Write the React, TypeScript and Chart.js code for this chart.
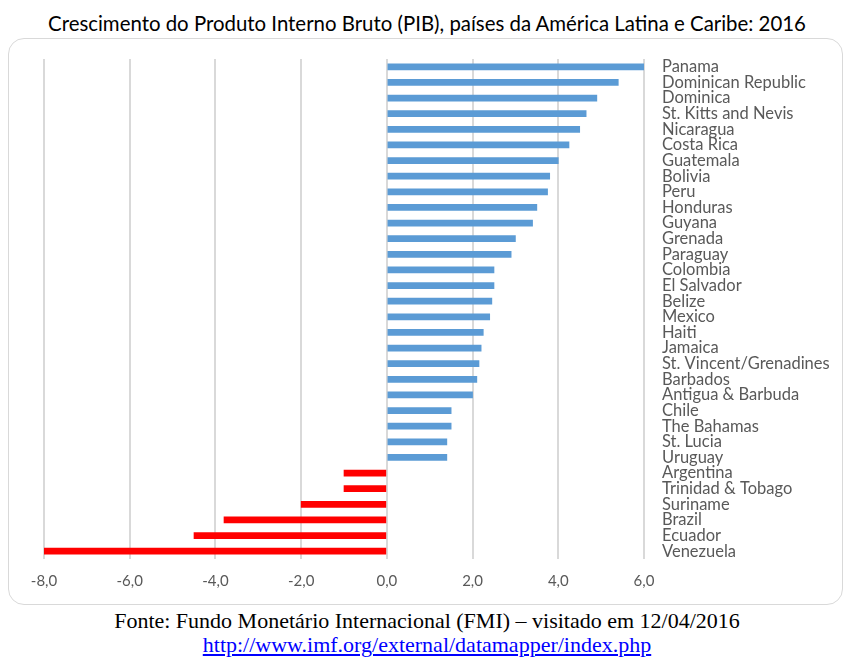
import React, { useEffect, useRef } from "react";
import { Chart, registerables } from "chart.js";

Chart.register(...registerables);

const countries: string[] = [
  "Panama", "Dominican Republic", "Dominica", "St. Kitts and Nevis", "Nicaragua",
  "Costa Rica", "Guatemala", "Bolivia", "Peru", "Honduras", "Guyana", "Grenada",
  "Paraguay", "Colombia", "El Salvador", "Belize", "Mexico", "Haiti", "Jamaica",
  "St. Vincent/Grenadines", "Barbados", "Antigua & Barbuda", "Chile", "The Bahamas",
  "St. Lucia", "Uruguay", "Argentina", "Trinidad & Tobago", "Suriname", "Brazil",
  "Ecuador", "Venezuela",
];

const growth: number[] = [
  6.0, 5.4, 4.9, 4.65, 4.5, 4.25, 4.0, 3.8, 3.75, 3.5, 3.4, 3.0,
  2.9, 2.5, 2.5, 2.45, 2.4, 2.25, 2.2, 2.15, 2.1, 2.0, 1.5, 1.5,
  1.4, 1.4, -1.0, -1.0, -2.0, -3.8, -4.5, -8.0,
];

const xTicks: number[] = [-8, -6, -4, -2, 0, 2, 4, 6];

const POS_COLOR = "#5b9bd5";
const NEG_COLOR = "#ff0000";
const SANS = "Lato, 'Open Sans', sans-serif";

function fmt(v: number): string {
  return v.toFixed(1).replace(".", ",");
}

export default function App() {
  const ref = useRef<HTMLCanvasElement | null>(null);

  useEffect(() => {
    if (!ref.current) return;
    const chart = new Chart(ref.current, {
      type: "bar",
      data: {
        labels: countries,
        datasets: [
          {
            data: growth,
            backgroundColor: growth.map((v) => (v < 0 ? NEG_COLOR : POS_COLOR)),
            barThickness: 6,
            borderWidth: 0,
          },
        ],
      },
      options: {
        indexAxis: "y",
        animation: false,
        responsive: false,
        maintainAspectRatio: false,
        layout: { padding: { left: 35, top: 20, right: 0, bottom: 0 } },
        plugins: {
          legend: { display: false },
          tooltip: { enabled: false },
          title: { display: false },
        },
        scales: {
          x: {
            type: "linear",
            min: -8,
            max: 6,
            afterBuildTicks: (scale: any) => {
              scale.ticks = xTicks.map((v) => ({ value: v }));
            },
            afterFit: (scale: any) => {
              scale.height = 45;
            },
            grid: {
              color: "#d9d9d9",
              lineWidth: 2,
              drawTicks: false,
            },
            border: { display: false },
            ticks: {
              padding: 13,
              color: "#595959",
              font: { family: SANS, size: 15 },
              callback: (v: any) => fmt(Number(v)),
            },
          },
          y: {
            position: "right",
            afterFit: (scale: any) => {
              scale.width = 198;
            },
            grid: {
              display: true,
              drawOnChartArea: false,
              drawTicks: true,
              tickLength: 18,
              tickColor: "rgba(0,0,0,0)",
            },
            border: { display: false },
            ticks: {
              padding: 0,
              color: "#595959",
              autoSkip: false,
              font: { family: SANS, size: 16.5 },
            },
          },
        },
      },
    });
    return () => chart.destroy();
  }, []);

  return (
    <div style={{ position: "relative", width: 838, height: 650 }}>
      <div
        style={{
          position: "absolute",
          left: 0,
          top: 2,
          width: 838,
          textAlign: "center",
          fontFamily: SANS,
          fontSize: 20.4,
          lineHeight: "26px",
          color: "#000",
          whiteSpace: "nowrap",
        }}
      >
        Crescimento do Produto Interno Bruto (PIB), países da América Latina e Caribe: 2016
      </div>
      <div
        style={{
          position: "absolute",
          left: 0,
          top: 30,
          width: 835,
          height: 567,
          boxSizing: "border-box",
          border: "1.5px solid #d9d9d9",
          borderRadius: 16,
        }}
      />
      <canvas
        ref={ref}
        width={833}
        height={565}
        style={{ position: "absolute", left: 1, top: 31, width: 833, height: 565 }}
      />
      <div
        style={{
          position: "absolute",
          left: 0,
          top: 601,
          width: 838,
          textAlign: "center",
          fontFamily: "'Liberation Serif', 'Times New Roman', serif",
          fontSize: 22,
          lineHeight: "24px",
          color: "#000",
          whiteSpace: "nowrap",
        }}
      >
        Fonte: Fundo Monetário Internacional (FMI) – visitado em 12/04/2016
      </div>
      <div
        style={{
          position: "absolute",
          left: 0,
          top: 625,
          width: 838,
          textAlign: "center",
          fontFamily: "'Liberation Serif', 'Times New Roman', serif",
          fontSize: 22,
          lineHeight: "24px",
          whiteSpace: "nowrap",
        }}
      >
        <a href="http://www.imf.org/external/datamapper/index.php" style={{ color: "#0000ff", textDecoration: "underline" }}>
          http://www.imf.org/external/datamapper/index.php
        </a>
      </div>
    </div>
  );
}
